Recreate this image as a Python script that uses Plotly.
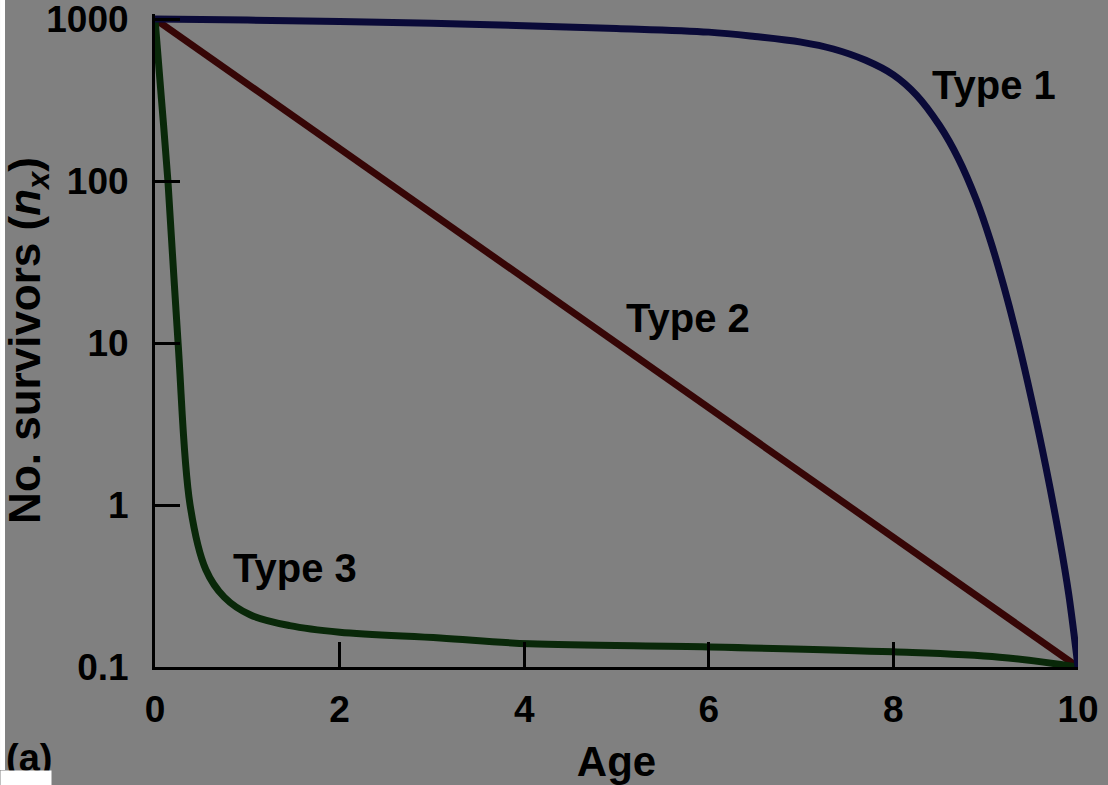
import plotly.graph_objects as go

# Survivorship curves: number of survivors (log scale) against age
type1_age = [0, 1, 2, 3, 4, 5, 6, 6.5, 7, 7.35, 7.7, 8.0, 8.25, 8.5, 8.7, 8.9, 9.05, 9.2, 9.35, 9.5, 9.65, 9.8, 9.9, 10]
type1_n = [1000, 985, 965, 940, 910, 875, 830, 780, 720, 653, 556, 452, 339, 220, 139, 76, 43, 22, 10.3, 4.4, 1.74, 0.62, 0.28, 0.1]

type2_age = [0, 10]
type2_n = [1000, 0.1]

type3_age = [0, 0.07, 0.14, 0.25, 0.38, 0.55, 0.75, 1.03, 1.46, 2.0, 3.09, 4.06, 6.0, 8.0, 9.15, 10]
type3_n = [1000, 320, 100, 10, 1, 0.4, 0.27, 0.21, 0.18, 0.164, 0.151, 0.139, 0.133, 0.124, 0.115, 0.1]

x_ticks = [0, 2, 4, 6, 8, 10]
y_ticks = [0.1, 1, 10, 100, 1000]
y_tick_text = ["0.1", "1", "10", "100", "1000"]

curve_labels = ["Type 1", "Type 2", "Type 3"]
label_age = [9.09, 5.77, 1.52]
label_logn = [2.593, 1.154, -0.389]

BG = "#808080"
FONT = "Liberation Sans, Arial, sans-serif"


def bold(size):
    return dict(family=FONT, size=size, color="black", weight="bold")


fig = go.Figure()
fig.add_trace(go.Scatter(x=type2_age, y=type2_n, mode="lines",
                         line=dict(color="#360606", width=7)))
fig.add_trace(go.Scatter(x=type3_age, y=type3_n, mode="lines",
                         line=dict(color="#092809", width=7, shape="spline", smoothing=1.0)))
fig.add_trace(go.Scatter(x=type1_age, y=type1_n, mode="lines",
                         line=dict(color="#0a0a38", width=7, shape="spline", smoothing=1.0)))

for text, ax, ay in zip(curve_labels, label_age, label_logn):
    fig.add_annotation(x=ax, y=ay, xref="x", yref="y", text=text, showarrow=False,
                       font=bold(40))

# panel letter, partly hidden under the white strip along the bottom edge
fig.add_annotation(x=-0.1635, y=-0.104, xref="paper", yref="paper", xanchor="left", yanchor="top",
                   text="(a)", showarrow=False, font=bold(38))
fig.add_annotation(x=-0.1679, y=-0.1577, xref="paper", yref="paper", xanchor="left", yanchor="top",
                   text=" ", showarrow=False, bgcolor="white", width=50, height=15, borderpad=0,
                   font=dict(size=4))

fig.add_shape(type="rect", xref="paper", yref="paper", x0=-0.1679, x1=-0.1625, y0=-0.1577, y1=1.03,
              fillcolor="white", line_width=0, layer="above")

fig.update_layout(
    width=1108, height=785,
    margin=dict(l=155, r=30, t=14, b=118, autoexpand=False),
    paper_bgcolor=BG, plot_bgcolor=BG,
    showlegend=False,
    font=bold(36),
    xaxis=dict(range=[0, 10], tickvals=x_ticks, ticks="inside", ticklen=25, tickwidth=2.5,
               tickcolor="black", showline=True, linewidth=3, linecolor="black",
               showgrid=False, zeroline=False, ticklabelstandoff=8, automargin=False,
               ticklabeloverflow="allow", tickfont=bold(37),
               title=dict(text="Age", standoff=18, font=bold(42))),
    yaxis=dict(type="log", range=[-1, 3.031], tickvals=y_ticks, ticktext=y_tick_text,
               ticks="inside", ticklen=25, tickwidth=2.5, tickcolor="black",
               showline=True, linewidth=3, linecolor="black", showgrid=False, zeroline=False,
               ticklabelstandoff=16, ticklabeloverflow="allow", tickfont=bold(37),
               automargin=False,
               title=dict(text="No. survivors (<i>n</i><sub><i>x</i></sub>)", standoff=2,
                          font=bold(44))),
)

fig.write_html("out.html")
